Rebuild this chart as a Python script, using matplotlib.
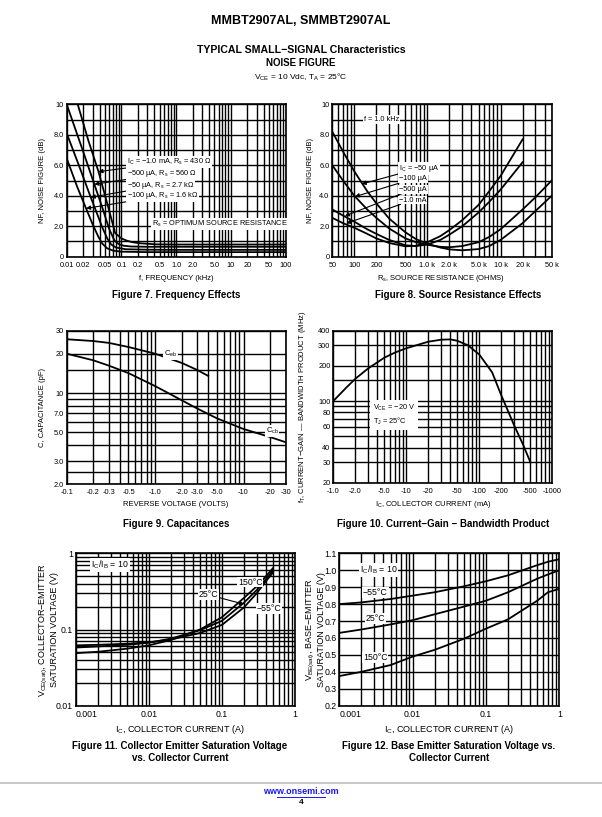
import matplotlib
matplotlib.use("Agg")
import matplotlib.pyplot as plt
from matplotlib import font_manager
from matplotlib.ticker import FixedLocator, FixedFormatter, NullFormatter
from matplotlib.lines import Line2D

# page size in pixels (dpi 100)
W, H = 602, 817


def has_font(name):
    try:
        font_manager.findfont(name, fallback_to_default=False)
        return True
    except Exception:
        return False


SANS = 'Liberation Sans'
NARROW = 'Liberation Sans Narrow' if has_font('Liberation Sans Narrow') else SANS
plt.rcParams['font.family'] = SANS
plt.rcParams['mathtext.fontset'] = 'custom'
plt.rcParams['mathtext.rm'] = SANS
plt.rcParams['mathtext.it'] = SANS
plt.rcParams['mathtext.bf'] = SANS + ':bold'

### Figure 7 - noise figure vs frequency (kHz, dB)
f7_1mA_f = [0.0159, 0.025, 0.038, 0.055, 0.077, 0.1, 0.126, 0.16, 0.22, 0.44, 1.0, 10, 100]
f7_1mA_nf = [10.0, 7.6, 5.6, 3.5, 1.55, 1.2, 1.05, 0.95, 0.88, 0.81, 0.8, 0.8, 0.8]
f7_500uA_f = [0.01, 0.02, 0.032, 0.045, 0.06, 0.075, 0.09, 0.11, 0.15, 0.3, 1.0, 10, 100]
f7_500uA_nf = [10.0, 6.9, 4.75, 3.2, 1.8, 1.05, 0.82, 0.72, 0.67, 0.65, 0.65, 0.65, 0.65]
f7_50uA_f = [0.01, 0.0175, 0.0275, 0.037, 0.045, 0.055, 0.065, 0.08, 0.12, 0.3, 1.0, 10, 100]
f7_50uA_nf = [8.1, 5.8, 3.9, 2.7, 1.9, 1.2, 0.8, 0.6, 0.49, 0.46, 0.45, 0.45, 0.45]
f7_100uA_f = [0.01, 0.0155, 0.0226, 0.03, 0.038, 0.045, 0.055, 0.07, 0.1, 0.3, 1.0, 10, 100]
f7_100uA_nf = [6.45, 4.6, 3.17, 2.1, 1.3, 0.85, 0.55, 0.4, 0.33, 0.3, 0.3, 0.3, 0.3]

### Figure 8 - noise figure vs source resistance (ohms, dB)
f8_r = [50, 70, 100, 150, 200, 300, 500, 700, 1000, 1500, 2000, 3000, 5000, 7000, 10000, 20000, 30000, 50000]
f8_50uA = [8.2, 6.9, 5.6, 4.3, 3.5, 2.5, 1.6, 1.15, 0.85, 0.6, 0.48, 0.42, 0.5, 0.7, 1.1, 2.2, 3.0, 4.0]
f8_100uA = [6.0, 5.0, 4.0, 3.1, 2.55, 1.85, 1.2, 0.95, 0.78, 0.65, 0.62, 0.7, 0.95, 1.3, 1.8, 3.1, 3.9, 5.0]
f8_r_hi = [50, 70, 100, 150, 200, 300, 500, 700, 1000, 1500, 2000, 3000, 5000, 7000, 10000, 20000]
f8_500uA = [3.1, 2.7, 2.3, 1.8, 1.5, 1.1, 0.75, 0.7, 0.8, 1.1, 1.45, 2.0, 2.9, 3.6, 4.4, 6.2]
f8_1mA = [2.55, 2.2, 1.9, 1.5, 1.2, 0.9, 0.68, 0.72, 0.95, 1.35, 1.75, 2.4, 3.4, 4.3, 5.3, 7.7]

### Figure 9 - capacitances (reverse volts, pF)
ceb_v = [0.1, 0.2, 0.3, 0.5, 1.0, 2.0, 3.0, 4.0]
ceb_c = [25.8, 25.0, 24.2, 22.5, 20.0, 17.0, 15.0, 13.5]
ccb_v = [0.1, 0.2, 0.3, 0.5, 1.0, 2.0, 3.0, 5.0, 10, 20, 30]
ccb_c = [20.0, 17.8, 16.2, 14.2, 11.3, 8.8, 7.6, 6.4, 5.3, 4.6, 4.2]

### Figure 10 - fT (MHz) vs collector current (mA)
ft_ic = [1, 1.5, 2, 3, 5, 7, 10, 20, 30, 40, 50, 70, 100, 150, 200, 300, 400, 500]
ft_mhz = [100, 130, 155, 190, 235, 260, 283, 322, 335, 337, 328, 300, 250, 176, 112, 62, 42, 30]

### Figure 11 - VCE(sat) vs IC (A)
vce_ic = [0.001, 0.002, 0.005, 0.01, 0.02, 0.05, 0.1, 0.2, 0.3, 0.4, 0.5]
vce_150 = [0.049, 0.051, 0.056, 0.062, 0.073, 0.1, 0.145, 0.26, 0.37, 0.5, 0.64]
vce_25 = [0.058, 0.06, 0.063, 0.067, 0.076, 0.098, 0.13, 0.225, 0.33, 0.46, 0.6]
vce_m55 = [0.062, 0.063, 0.065, 0.068, 0.074, 0.09, 0.115, 0.195, 0.3, 0.43, 0.56]

### Figure 12 - VBE(sat) vs IC (A)
vbe_ic = [0.001, 0.002, 0.005, 0.01, 0.02, 0.05, 0.1, 0.2, 0.5, 0.7, 1.0]
vbe_m55 = [0.80, 0.81, 0.83, 0.85, 0.87, 0.905, 0.935, 0.97, 1.03, 1.05, 1.065]
vbe_25 = [0.63, 0.65, 0.68, 0.705, 0.74, 0.785, 0.82, 0.87, 0.95, 0.975, 1.0]
vbe_150 = [0.375, 0.40, 0.44, 0.49, 0.53, 0.595, 0.655, 0.71, 0.82, 0.87, 0.89]

fig = plt.figure(figsize=(W / 100, H / 100), dpi=100)
fig.patch.set_facecolor('white')


def add_ax(l, t, r, b):
    return fig.add_axes([l / W, 1 - b / H, (r - l) / W, (b - t) / H])


def ftext(x, y, s, **kw):
    # text placed in page pixels
    return fig.text(x / W, 1 - y / H, s, **kw)


def log_lines(lo, hi):
    out = []
    dec = 1e-4
    while dec <= hi * 10:
        for m in range(1, 10):
            v = round(m * dec, 6)
            if lo * 0.999 <= v <= hi * 1.001:
                out.append(v)
        dec *= 10
    return out


def style(ax, fs, family, xt, xl, yt, yl, xminor, yminor, xpad=3.5):
    ax.xaxis.set_major_locator(FixedLocator(xt))
    ax.xaxis.set_major_formatter(FixedFormatter(xl))
    ax.yaxis.set_major_locator(FixedLocator(yt))
    ax.yaxis.set_major_formatter(FixedFormatter(yl))
    ax.xaxis.set_minor_locator(FixedLocator(xminor))
    ax.yaxis.set_minor_locator(FixedLocator(yminor))
    ax.xaxis.set_minor_formatter(NullFormatter())
    ax.yaxis.set_minor_formatter(NullFormatter())
    ax.tick_params(which='both', length=0, pad=2, labelsize=fs, labelfontfamily=family)
    ax.tick_params(axis='x', which='both', pad=xpad)
    ax.grid(which='both', color='black', lw=1.0)
    ax.set_axisbelow(True)
    for s in ax.spines.values():
        s.set_linewidth(1.2)


box = dict(facecolor='white', edgecolor='none', pad=0.6)
arrow = dict(arrowstyle='-|>', color='black', lw=0.8, mutation_scale=6, shrinkA=0, shrinkB=0)
CW = 1.3  # curve width

# ---------------- header ----------------
ftext(301, 21, 'MMBT2907AL, SMMBT2907AL', ha='center', va='center', fontsize=9, fontweight='bold')
ftext(301, 50, 'TYPICAL SMALL\u2212SIGNAL Characteristics', ha='center', va='center', fontsize=7.6, fontweight='bold')
ftext(301, 63, 'NOISE FIGURE', ha='center', va='center', fontsize=7, fontweight='bold')
ftext(301, 77, 'V$_{CE}$ = 10 Vdc, T$_{A}$ = 25\u00b0C', ha='center', va='center', fontsize=6)

# ---------------- Figure 7 ----------------
ax7 = add_ax(66.7, 104.3, 285.5, 256.7)
ax7.set_xscale('log')
ax7.set_xlim(0.01, 100)
ax7.set_ylim(0, 10)
style(ax7, 5.3, NARROW,
      [0.01, 0.02, 0.05, 0.1, 0.2, 0.5, 1, 2, 5, 10, 20, 50, 100],
      ['0.01', '0.02', '0.05', '0.1', '0.2', '0.5', '1.0', '2.0', '5.0', '10', '20', '50', '100'],
      [0, 2, 4, 6, 8, 10], ['0', '2.0', '4.0', '6.0', '8.0', '10'],
      log_lines(0.01, 100), list(range(11)))
ax7.plot(f7_1mA_f, f7_1mA_nf, color='black', lw=CW)
ax7.plot(f7_500uA_f, f7_500uA_nf, color='black', lw=CW)
ax7.plot(f7_50uA_f, f7_50uA_nf, color='black', lw=CW)
ax7.plot(f7_100uA_f, f7_100uA_nf, color='black', lw=CW)
ax7.annotate('I$_C$ = \u22121.0 mA, R$_s$ = 430 \u03a9', xy=(0.038, 5.58), xytext=(0.126, 6.19),
             fontsize=5.3, family=NARROW, ha='left', va='center', bbox=box, arrowprops=arrow)
ax7.annotate('\u2212500 \u00b5A, R$_s$ = 560 \u03a9', xy=(0.032, 4.75), xytext=(0.126, 5.43),
             fontsize=5.3, family=NARROW, ha='left', va='center', bbox=box, arrowprops=arrow)
ax7.annotate('\u221250 \u00b5A, R$_s$ = 2.7 k\u03a9', xy=(0.0275, 3.9), xytext=(0.126, 4.7),
             fontsize=5.3, family=NARROW, ha='left', va='center', bbox=box, arrowprops=arrow)
ax7.annotate('\u2212100 \u00b5A, R$_s$ = 1.6 k\u03a9', xy=(0.0226, 3.17), xytext=(0.126, 4.0),
             fontsize=5.3, family=NARROW, ha='left', va='center', bbox=box, arrowprops=arrow)
ax7.text(0.36, 2.12, 'R$_s$ = OPTIMUM SOURCE RESISTANCE', fontsize=5.3, family=NARROW,
         ha='left', va='center', bbox=box)
ftext(176, 278, 'f, FREQUENCY (kHz)', ha='center', va='center', fontsize=5.5, family=NARROW)
ftext(43, 180.5, 'NF, NOISE FIGURE (dB)', ha='center', va='center', rotation=90, fontsize=5.5, family=NARROW)
ftext(176, 295, 'Figure 7. Frequency Effects', ha='center', va='center', fontsize=7, fontweight='bold')

# ---------------- Figure 8 ----------------
ax8 = add_ax(332.3, 104.3, 551.7, 256.7)
ax8.set_xscale('log')
ax8.set_xlim(50, 50000)
ax8.set_ylim(0, 10)
style(ax8, 5.3, NARROW,
      [50, 100, 200, 500, 1000, 2000, 5000, 10000, 20000, 50000],
      ['50', '100', '200', '500', '1.0 k', '2.0 k', '5.0 k', '10 k', '20 k', '50 k'],
      [0, 2, 4, 6, 8, 10], ['0', '2.0', '4.0', '6.0', '8.0', '10'],
      log_lines(50, 50000), list(range(11)))
ax8.plot(f8_r, f8_50uA, color='black', lw=CW)
ax8.plot(f8_r, f8_100uA, color='black', lw=CW)
ax8.plot(f8_r_hi, f8_500uA, color='black', lw=CW)
ax8.plot(f8_r_hi, f8_1mA, color='black', lw=CW)
ax8.text(237, 9.0, 'f = 1.0 kHz', fontsize=5.3, family=NARROW, ha='center', va='center', bbox=box)
ax8.annotate('I$_C$ = \u221250 \u00b5A', xy=(126, 4.77), xytext=(410, 5.8),
             fontsize=5.3, family=NARROW, ha='left', va='center', bbox=box, arrowprops=arrow)
ax8.annotate('\u2212100 \u00b5A', xy=(102, 3.94), xytext=(410, 5.1),
             fontsize=5.3, family=NARROW, ha='left', va='center', bbox=box, arrowprops=arrow)
ax8.annotate('\u2212500 \u00b5A', xy=(74.5, 2.67), xytext=(410, 4.42),
             fontsize=5.3, family=NARROW, ha='left', va='center', bbox=box, arrowprops=arrow)
ax8.annotate('\u22121.0 mA', xy=(78, 2.19), xytext=(410, 3.72),
             fontsize=5.3, family=NARROW, ha='left', va='center', bbox=box, arrowprops=arrow)
ftext(441, 278, 'R$_s$, SOURCE RESISTANCE (OHMS)', ha='center', va='center', fontsize=5.5, family=NARROW)
ftext(311, 180.5, 'NF, NOISE FIGURE (dB)', ha='center', va='center', rotation=90, fontsize=5.5, family=NARROW)
ftext(458, 295, 'Figure 8. Source Resistance Effects', ha='center', va='center', fontsize=7, fontweight='bold')

# ---------------- Figure 9 ----------------
ax9 = add_ax(66.7, 330.7, 285.7, 484.3)
ax9.set_xscale('log')
ax9.set_yscale('log')
ax9.set_xlim(0.1, 30)
ax9.set_ylim(2, 30)
style(ax9, 5.3, NARROW,
      [0.1, 0.2, 0.3, 0.5, 1, 2, 3, 5, 10, 20, 30],
      ['-0.1', '-0.2', '-0.3', '-0.5', '-1.0', '-2.0', '-3.0', '-5.0', '-10', '-20', '-30'],
      [2, 3, 5, 7, 10, 20, 30], ['2.0', '3.0', '5.0', '7.0', '10', '20', '30'],
      log_lines(0.1, 30), [2, 2.5, 3, 4, 5, 6, 7, 8, 9, 10, 15, 20, 30])
ax9.plot(ceb_v, ceb_c, color='black', lw=CW)
ax9.plot(ccb_v, ccb_c, color='black', lw=CW)
ax9.text(1.5, 20, 'C$_{eb}$', fontsize=5.5, family=NARROW, ha='center', va='center', bbox=box)
ax9.text(21, 5.1, 'C$_{cb}$', fontsize=5.5, family=NARROW, ha='center', va='center', bbox=box)
ftext(176, 504, 'REVERSE VOLTAGE (VOLTS)', ha='center', va='center', fontsize=5.5, family=NARROW)
ftext(43, 407.5, 'C, CAPACITANCE (pF)', ha='center', va='center', rotation=90, fontsize=5.5, family=NARROW)
ftext(176, 524, 'Figure 9. Capacitances', ha='center', va='center', fontsize=7, fontweight='bold')

# ---------------- Figure 10 ----------------
ax10 = add_ax(333.3, 330.7, 552.3, 482.7)
ax10.set_xscale('log')
ax10.set_yscale('log')
ax10.set_xlim(1, 1000)
ax10.set_ylim(20, 400)
style(ax10, 5.3, NARROW,
      [1, 2, 5, 10, 20, 50, 100, 200, 500, 1000],
      ['-1.0', '-2.0', '-5.0', '-10', '-20', '-50', '-100', '-200', '-500', '-1000'],
      [20, 30, 40, 60, 80, 100, 200, 300, 400],
      ['20', '30', '40', '60', '80', '100', '200', '300', '400'],
      log_lines(1, 1000), [20, 30, 40, 50, 60, 70, 80, 90, 100, 150, 200, 300, 400])
ax10.plot(ft_ic, ft_mhz, color='black', lw=CW)
ax10.text(3.5, 76, 'V$_{CE}$ = \u221220 V\nT$_J$ = 25\u00b0C', fontsize=5.3, family=NARROW,
          ha='left', va='center', bbox=dict(facecolor='white', edgecolor='none', pad=2.0), linespacing=1.3)
ftext(433, 504, 'I$_C$, COLLECTOR CURRENT (mA)', ha='center', va='center', fontsize=5.5, family=NARROW)
ftext(303, 406.7, 'f$_T$, CURRENT\u2212GAIN \u2014 BANDWIDTH PRODUCT (MHz)', ha='center', va='center',
      rotation=90, fontsize=5.5, family=NARROW)
ftext(443, 524, 'Figure 10. Current\u2212Gain \u2212 Bandwidth Product', ha='center', va='center',
      fontsize=7, fontweight='bold')

# ---------------- Figure 11 ----------------
ax11 = add_ax(76, 553.3, 295, 705.7)
ax11.set_xscale('log')
ax11.set_yscale('log')
ax11.set_xlim(0.001, 1)
ax11.set_ylim(0.01, 1)
style(ax11, 6.3, SANS,
      [0.001, 0.01, 0.1, 1], ['0.001', '0.01', '0.1', '1'],
      [0.01, 0.1, 1], ['0.01', '0.1', '1'],
      log_lines(0.001, 1), log_lines(0.01, 1), xpad=3)
ax11.xaxis.get_major_ticks()[0].label1.set_horizontalalignment('left')
ax11.plot(vce_ic, vce_150, color='black', lw=CW)
ax11.plot(vce_ic, vce_25, color='black', lw=CW)
ax11.plot(vce_ic, vce_m55, color='black', lw=CW)
ax11.text(0.0016, 0.7, 'I$_C$/I$_B$ = 10', fontsize=6.3, ha='left', va='center', bbox=box)
ax11.text(0.165, 0.42, '150\u00b0C', fontsize=6.3, ha='left', va='center', bbox=box)
ax11.annotate('25\u00b0C', xy=(0.2, 0.215), xytext=(0.048, 0.285), fontsize=6.3, ha='left', va='center',
              bbox=box, arrowprops=arrow)
ax11.text(0.3, 0.19, '\u221255\u00b0C', fontsize=6.3, ha='left', va='center', bbox=box)
ftext(180, 729, 'I$_C$, COLLECTOR CURRENT (A)', ha='center', va='center', fontsize=6.5)
ftext(48.5, 629.5, 'V$_{CE(sat)}$, COLLECTOR\u2212EMITTER\nSATURATION VOLTAGE (V)', ha='center', va='center',
      rotation=90, fontsize=6.5, linespacing=1.0)
ftext(180, 746, 'Figure 11. Collector Emitter Saturation Voltage', ha='center', va='center',
      fontsize=7, fontweight='bold')
ftext(180, 758, 'vs. Collector Current', ha='center', va='center', fontsize=7, fontweight='bold')

# ---------------- Figure 12 ----------------
ax12 = add_ax(339.3, 553.3, 559.3, 705.7)
ax12.set_xscale('log')
ax12.set_xlim(0.001, 1)
ax12.set_ylim(0.2, 1.1)
yv = [0.2, 0.3, 0.4, 0.5, 0.6, 0.7, 0.8, 0.9, 1.0, 1.1]
style(ax12, 6.3, SANS,
      [0.001, 0.01, 0.1, 1], ['0.001', '0.01', '0.1', '1'],
      yv, ['%.1f' % v for v in yv],
      log_lines(0.001, 1), yv, xpad=3)
ax12.xaxis.get_major_ticks()[0].label1.set_horizontalalignment('left')
ax12.plot(vbe_ic, vbe_m55, color='black', lw=CW)
ax12.plot(vbe_ic, vbe_25, color='black', lw=CW)
ax12.plot(vbe_ic, vbe_150, color='black', lw=CW)
ax12.text(0.0019, 1.0, 'I$_C$/I$_B$ = 10', fontsize=6.3, ha='left', va='center', bbox=box)
ax12.text(0.0021, 0.87, '\u221255\u00b0C', fontsize=6.3, ha='left', va='center', bbox=box)
ax12.text(0.0023, 0.715, '25\u00b0C', fontsize=6.3, ha='left', va='center', bbox=box)
ax12.text(0.0021, 0.485, '150\u00b0C', fontsize=6.3, ha='left', va='center', bbox=box)
ftext(449, 729, 'I$_C$, COLLECTOR CURRENT (A)', ha='center', va='center', fontsize=6.5)
ftext(314.5, 629.5, 'V$_{BE(sat)}$, BASE\u2212EMITTER\nSATURATION VOLTAGE (V)', ha='center', va='center',
      rotation=90, fontsize=6.5, linespacing=1.0)
ftext(449, 746, 'Figure 12. Base Emitter Saturation Voltage vs.', ha='center', va='center',
      fontsize=7, fontweight='bold')
ftext(449, 758, 'Collector Current', ha='center', va='center', fontsize=7, fontweight='bold')

# ---------------- footer ----------------
fig.add_artist(Line2D([0, 1], [1 - 783 / H, 1 - 783 / H], color='#c4c4c4', lw=1.3))
ftext(301, 792, 'www.onsemi.com', ha='center', va='center', fontsize=6.5, fontweight='bold', color='#1a1aee')
fig.add_artist(Line2D([(301 - 24) / W, (301 + 24) / W], [1 - 796.5 / H, 1 - 796.5 / H], color='#1a1aee', lw=0.7))
ftext(301, 803, '4', ha='center', va='center', fontsize=6, fontweight='bold')

fig.savefig('out.png', dpi=100, facecolor='white')
